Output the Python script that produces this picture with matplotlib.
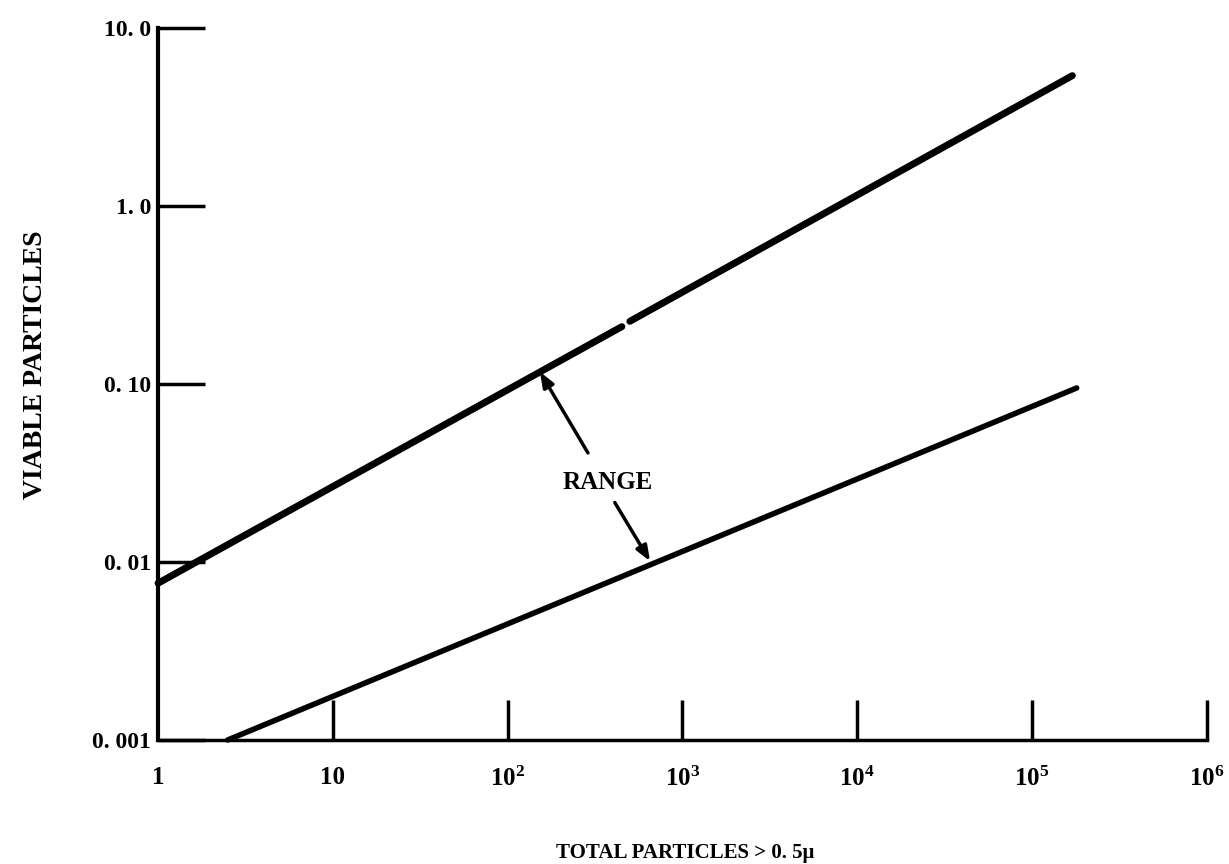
import matplotlib
matplotlib.use('Agg')
import matplotlib.pyplot as plt

plt.rcParams['font.family'] = ['Liberation Serif', 'DejaVu Serif']
plt.rcParams['font.weight'] = 'bold'
plt.rcParams['mathtext.fontset'] = 'custom'
plt.rcParams['mathtext.rm'] = 'Liberation Serif:bold'
plt.rcParams['mathtext.bf'] = 'Liberation Serif:bold'
plt.rcParams['mathtext.default'] = 'bf'

# upper bound line (drawn in two pieces, there is a small break in the original)
upper_x1 = [1, 450]
upper_y1 = [0.0076, 0.21]
upper_x2 = [500, 1.7e5]
upper_y2 = [0.225, 5.4]
# lower bound line
lower_x = [2.5, 1.8e5]
lower_y = [0.001, 0.095]

# annotation: tip on line, tail near label
arrow_tips = [(153, 0.117), (653, 0.0101)]
arrow_tails = [(288, 0.041), (410, 0.0216)]
label_pos = (375, 0.028)

xticks = [10, 1e2, 1e3, 1e4, 1e5, 1e6]
xtick_labels = ['10', r'10$^2$', r'10$^3$', r'10$^4$', r'10$^5$', r'10$^6$']
yticks = [0.001, 0.01, 0.1, 1.0, 10.0]
ytick_labels = ['0. 001', '0. 01', '0. 10', '1. 0', '10. 0']

fig = plt.figure(figsize=(12.29, 8.64), dpi=100)
ax = fig.add_axes([0.1286, 0.1435, 0.982 - 0.1286, 0.9676 - 0.1435])
ax.set_xscale('log')
ax.set_yscale('log')
ax.set_xlim(1, 1e6)
ax.set_ylim(0.001, 10)

lw = 5
ax.plot(upper_x1, upper_y1, color='black', lw=lw, solid_capstyle='round', clip_on=False)
ax.plot(upper_x2, upper_y2, color='black', lw=lw, solid_capstyle='round', clip_on=False)
ax.plot(lower_x, lower_y, color='black', lw=4, solid_capstyle='round', clip_on=False)

for tip, tail in zip(arrow_tips, arrow_tails):
    ax.annotate('', xy=tip, xytext=tail,
                arrowprops=dict(arrowstyle='-|>,head_length=0.9,head_width=0.35',
                                color='black', lw=2.5, shrinkA=0, shrinkB=0))
ax.text(label_pos[0], label_pos[1], 'RANGE', ha='center', va='center',
        fontsize=18, fontweight='bold')

ax.spines['top'].set_visible(False)
ax.spines['right'].set_visible(False)
ax.spines['left'].set_linewidth(3)
ax.spines['bottom'].set_linewidth(2.5)

ax.set_xticks([1] + xticks)
ax.set_xticklabels(['1'] + xtick_labels)
ax.minorticks_off()
ax.set_yticks(yticks)
ax.set_yticklabels(ytick_labels)
ax.tick_params(axis='x', direction='in', length=29, width=2.5, pad=19, labelsize=18)
ax.tick_params(axis='y', direction='in', length=34, width=2.5, pad=5, labelsize=17)
ax.xaxis.get_major_ticks()[0].tick1line.set_visible(False)
for t in ax.xaxis.get_major_ticks() + ax.yaxis.get_major_ticks():
    t.tick1line.set_clip_on(False)

ax.set_xlabel('TOTAL PARTICLES > 0. 5μ', fontsize=15, fontweight='bold', labelpad=38)
ax.xaxis.set_label_coords(0.503, -0.145)
ax.set_ylabel('VIABLE PARTICLES', fontsize=20, fontweight='bold')
ax.yaxis.set_label_coords(-0.105, 0.527)

fig.savefig('out.png', dpi=100)
